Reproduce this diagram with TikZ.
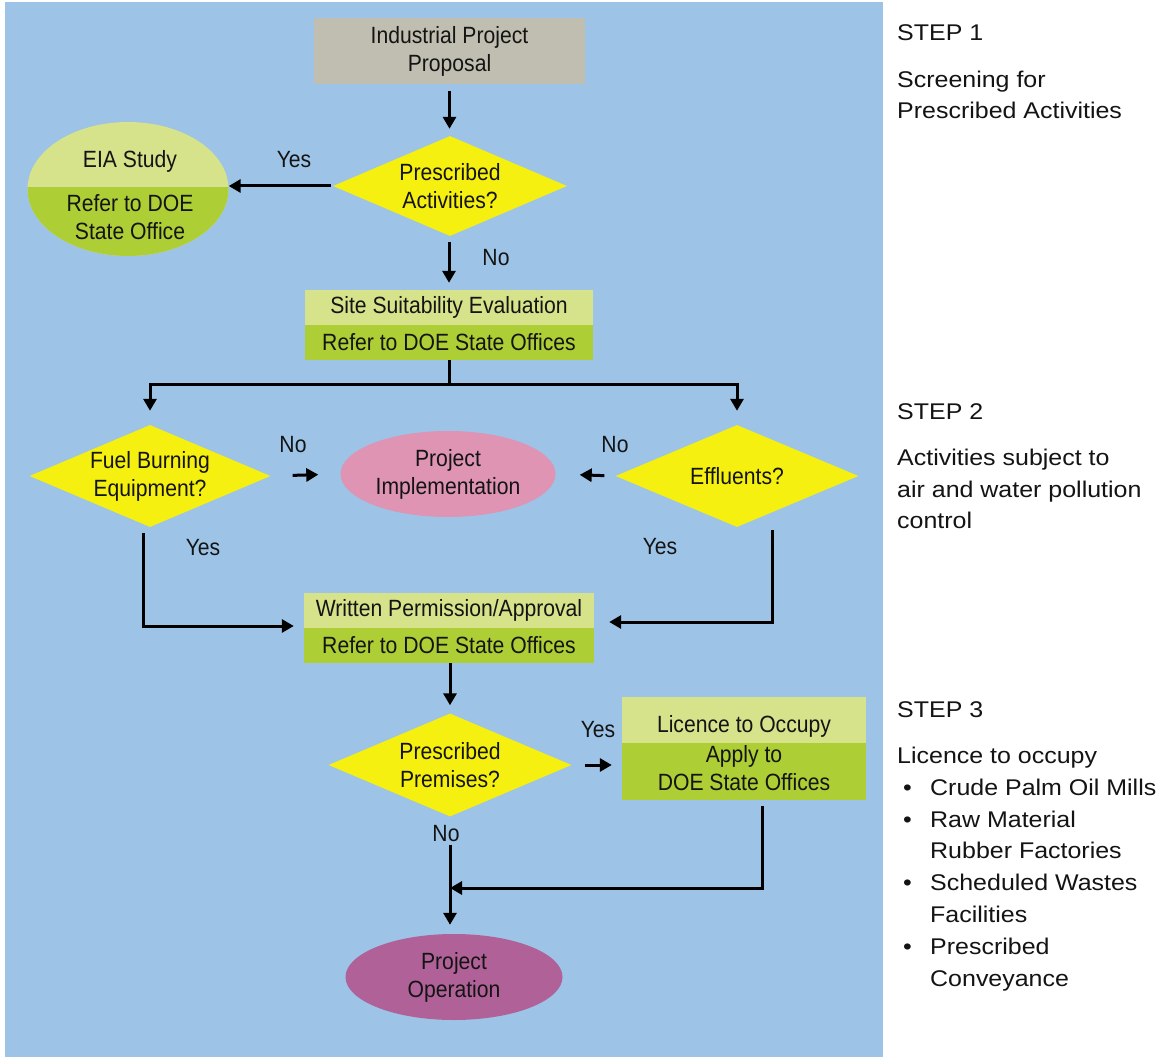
\documentclass[tikz,border=0pt]{standalone}
\usepackage{fontspec}
\setmainfont{Liberation Sans}
\newfontfamily\flowfont[FakeStretch=0.9]{Liberation Sans}
\newfontfamily\sidefont[FakeStretch=1.1]{Liberation Sans}
\usetikzlibrary{arrows.meta,shapes.geometric}
\definecolor{bgblue}{RGB}{157,195,231}
\definecolor{boxgray}{RGB}{191,190,176}
\definecolor{dyellow}{RGB}{245,240,16}
\definecolor{lgreen}{RGB}{214,227,138}
\definecolor{dgreen}{RGB}{173,206,52}
\definecolor{ipink}{RGB}{222,148,178}
\definecolor{opurple}{RGB}{176,98,152}
\definecolor{ink}{RGB}{20,20,20}
\begin{document}
\begin{tikzpicture}[x=1pt,y=-1pt,
  ftext/.style={font=\flowfont\fontsize{23.5}{28}\selectfont, align=center, inner sep=0pt, text=ink},
  stext/.style={font=\sidefont\fontsize{22.7}{32}\selectfont, anchor=base west, inner sep=0pt, text=ink},
  lbl/.style={font=\flowfont\fontsize{23.5}{28}\selectfont, inner sep=0pt, text=ink},
  rectbox/.style={ftext, rectangle, minimum width=#1},
  dia/.style={ftext, diamond, aspect=2.6, fill=dyellow},
  conn/.style={line width=3pt, draw=black, -{Triangle[width=13pt,length=12pt]}},
  plainline/.style={line width=3pt, draw=black},
]
\useasboundingbox (0,0) rectangle (1162,1059);
\fill[white] (0,0) rectangle (1162,1059);
\fill[bgblue] (5,2) rectangle (883,1057);

% Step 1
\node[rectbox=271, fill=boxgray, minimum height=66] (prop) at (449.5,51) {Industrial Project\\Proposal};
\node[dia, minimum width=234, minimum height=100] (pa) at (450,186) {Prescribed\\Activities?};

% EIA ellipse
\node[ellipse, fill=lgreen, minimum width=201, minimum height=134, inner sep=0pt] (eia) at (128,189) {};
\begin{scope}
  \clip (20,188) rectangle (240,260);
  \fill[dgreen] (eia.center) ellipse [x radius=100.5, y radius=67];
\end{scope}
\node[ftext] (eiat) at (130,161) {EIA Study};
\node[ftext] (eiab) at (130,217) {Refer to DOE\\State Office};

\draw[conn, shorten <=7pt, shorten >=7pt] (prop.south) -- (prop.south |- pa.north);
\draw[conn, shorten <=2pt] (pa.west) -- (pa.west -| eia.east);
\node[lbl] (yes1) at (294,160) {Yes};

% Site suitability
\node[rectbox=288, fill=lgreen, minimum height=35] (site) at (449,307.5) {Site Suitability Evaluation};
\node[rectbox=288, fill=dgreen, minimum height=35] (siteb) at (449,342.5) {Refer to DOE State Offices};
\draw[conn, shorten <=6pt, shorten >=7pt] (site.north |- pa.south) -- (site.north);
\node[lbl] (no1) at (496,258) {No};

% Step 2
\node[dia, aspect=2.3, minimum width=241, minimum height=102] (fuel) at (150,476) {Fuel Burning\\Equipment?};
\node[dia, minimum width=243, minimum height=102] (eff) at (737,476) {Effluents?};
\node[ellipse, ftext, fill=ipink, minimum width=215, minimum height=86] (impl) at (448,474) {Project\\Implementation};
\coordinate (split) at (449,384);
\draw[plainline] (siteb.south) -- (split);
\draw[conn, shorten >=14pt] (split) -| (fuel.north);
\draw[conn, shorten >=14pt] (split) -| (eff.north);
\draw[conn, shorten <=22pt, shorten >=22pt] (fuel.east) -- (impl.west);
\draw[conn, shorten <=11pt, shorten >=24pt] (eff.west) -- (impl.east);
\node[lbl] (no2) at (293,445) {No};
\node[lbl] (no3) at (615,445) {No};
\node[lbl] (yes2) at (203,548) {Yes};
\node[lbl] (yes3) at (660,547) {Yes};

% Written permission
\node[rectbox=290, minimum height=70] (wpbox) at (449,628) {};
\node[rectbox=290, fill=lgreen, minimum height=35] (wp) at (449,610.5) {Written Permission/Approval};
\node[rectbox=290, fill=dgreen, minimum height=35] (wpb) at (449,645.5) {Refer to DOE State Offices};
\draw[conn, shorten >=10pt] ([xshift=-7pt,yshift=-6pt]fuel.south) |- ([yshift=2pt]wpbox.west);
\draw[conn, shorten >=15pt] ([xshift=35pt,yshift=-3pt]eff.south) |- ([yshift=6pt]wpbox.east);

% Step 3
\node[dia, minimum width=243, minimum height=103] (pp) at (450,765) {Prescribed\\Premises?};
\draw[conn, shorten >=8pt] (pp.north |- wpb.south) -- (pp.north);
\node[rectbox=244, minimum height=103] (lic) at (744,748.5) {};
\fill[lgreen] (lic.north west) rectangle ([yshift=-46pt]lic.north east);
\fill[dgreen] ([yshift=-46pt]lic.north west) rectangle (lic.south east);
\node[ftext] (lict) at (744,726) {Licence to Occupy};
\node[ftext] (licb) at (744,768) {Apply to\\DOE State Offices};
\draw[conn, shorten <=13pt, shorten >=10pt] (pp.east) -- (pp.east -| lic.west);
\node[lbl] (yes4) at (598,730) {Yes};
\node[lbl] (no4) at (446,834) {No};

\node[ellipse, ftext, fill=opurple, minimum width=217, minimum height=86] (po) at (454,977) {Project\\Operation};
\draw[conn, shorten <=28pt, shorten >=9pt] (pp.south) -- (pp.south |- po.north);
\coordinate (join) at (450,888);
\draw[conn] ([xshift=18pt,yshift=-6pt]lic.south) |- (join);

% Side text
\node[stext] (s1) at (897,41) {STEP 1};
\node[stext] (s1a) at (897,88) {Screening for};
\node[stext] (s1b) at (897,119) {Prescribed Activities};
\node[stext] (s2) at (897,419) {STEP 2};
\node[stext] (s2a) at (897,465) {Activities subject to};
\node[stext] (s2b) at (897,497) {air and water pollution};
\node[stext] (s2c) at (897,528) {control};
\node[stext] (s3) at (897,717) {STEP 3};
\node[stext] (s3a) at (897,763) {Licence to occupy};
\node[stext] (b1) at (903,795) {\textbullet};
\node[stext] (t1) at (930,795) {Crude Palm Oil Mills};
\node[stext] (b2) at (903,827) {\textbullet};
\node[stext] (t2) at (930,827) {Raw Material};
\node[stext] (t2b) at (930,858) {Rubber Factories};
\node[stext] (b3) at (903,890) {\textbullet};
\node[stext] (t3) at (930,890) {Scheduled Wastes};
\node[stext] (t3b) at (930,922) {Facilities};
\node[stext] (b4) at (903,954) {\textbullet};
\node[stext] (t4) at (930,954) {Prescribed};
\node[stext] (t4b) at (930,986) {Conveyance};
\end{tikzpicture}
\end{document}
